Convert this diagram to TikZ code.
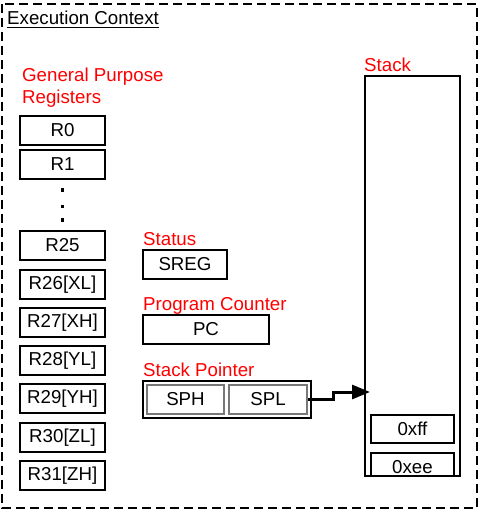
\documentclass[tikz,border=0pt]{standalone}
\usepackage{fontspec}
\setmainfont{Liberation Sans}
\usetikzlibrary{arrows.meta}
\definecolor{lblred}{RGB}{255,0,0}
\definecolor{boxgray}{RGB}{120,120,120}
\tikzset{
  txt/.style={font=\fontsize{18.7}{22.4}\selectfont, inner sep=0pt},
  lbl/.style={txt, text=lblred, anchor=base west},
  reg/.style={txt, draw=black, line width=1.7pt, rectangle, minimum width=85pt, minimum height=29pt},
  cell/.style={txt, draw=black, line width=1.7pt, rectangle, minimum height=29pt},
  subcell/.style={txt, draw=boxgray, line width=1.7pt, rectangle, minimum height=29pt},
  frame/.style={draw=black, line width=1.8pt, dash pattern=on 9pt off 5pt},
  ptr/.style={line width=3pt, -{Triangle[length=18pt,width=14pt]}},
  dot/.style={fill=black, minimum size=3.2pt, inner sep=0pt, rectangle}
}
\begin{document}
\begin{tikzpicture}[x=1pt,y=-1pt]
\useasboundingbox (0,0) rectangle (481,515);
\fill[white] (0,0) rectangle (481,515);
\draw[frame] (2,4) rectangle (477,508);

\node[txt, anchor=base west] (title) at (7,24) {Execution Context};
\draw[line width=1pt] (title.base west) ++(0,3) -- (title.base east |- 0,27);

\node[lbl] (gp1) at (22,81.7) {General Purpose};
\node[lbl] (gp2) at (22,103.3) {Registers};

\node[reg] (r0) at (62.5,130.5) {R0};
\node[reg] (r1) at (62.5,164.5) {R1};
\node[dot] (d1) at (62.3,190) {};
\node[dot] (d2) at (62.3,206.5) {};
\node[dot] (d3) at (62.3,220) {};
\node[reg] (r25) at (62.5,245.5) {R25};
\node[reg] (r26) at (62.5,284.5) {R26[XL]};
\node[reg] (r27) at (62.5,322.5) {R27[XH]};
\node[reg] (r28) at (62.5,360.5) {R28[YL]};
\node[reg] (r29) at (62.5,398.5) {R29[YH]};
\node[reg] (r30) at (62.5,437.5) {R30[ZL]};
\node[reg] (r31) at (62.5,475.5) {R31[ZH]};

\node[lbl] (stl) at (143,245) {Status};
\node[cell, minimum width=84pt] (sreg) at (185,264.5) {SREG};

\node[lbl] (pcl) at (143,310) {Program Counter};
\node[cell, minimum width=126pt] (pc) at (206,329.5) {PC};

\node[lbl] (spl) at (143,376.5) {Stack Pointer};
\node[draw=black, line width=1.7pt, minimum width=168pt, minimum height=37pt, inner sep=0pt] (sp) at (227,399.5) {};
\node[subcell, minimum width=77pt] (sph) at (185.5,399.5) {SPH};
\node[subcell, minimum width=78pt] (splo) at (268,399.5) {SPL};

\node[lbl] (stackl) at (364,71) {Stack};
\node[draw=black, line width=1.7pt, minimum width=95pt, minimum height=400pt, inner sep=0pt] (stack) at (412.5,276) {};
\node[cell, minimum width=83pt, minimum height=28pt] (xff) at (412.5,429) {0xff};
\node[txt, minimum width=83pt, minimum height=28pt] (xee) at (412.5,467) {0xee};
\draw[line width=1.7pt] (xee.south west |- stack.south) -- (xee.north west) -- (xee.north east) -- (xee.east |- stack.south);

\coordinate (tgt) at (370,392);
\draw[ptr] (splo.east) -- (333,399.5) |- (tgt);
\end{tikzpicture}
\end{document}
